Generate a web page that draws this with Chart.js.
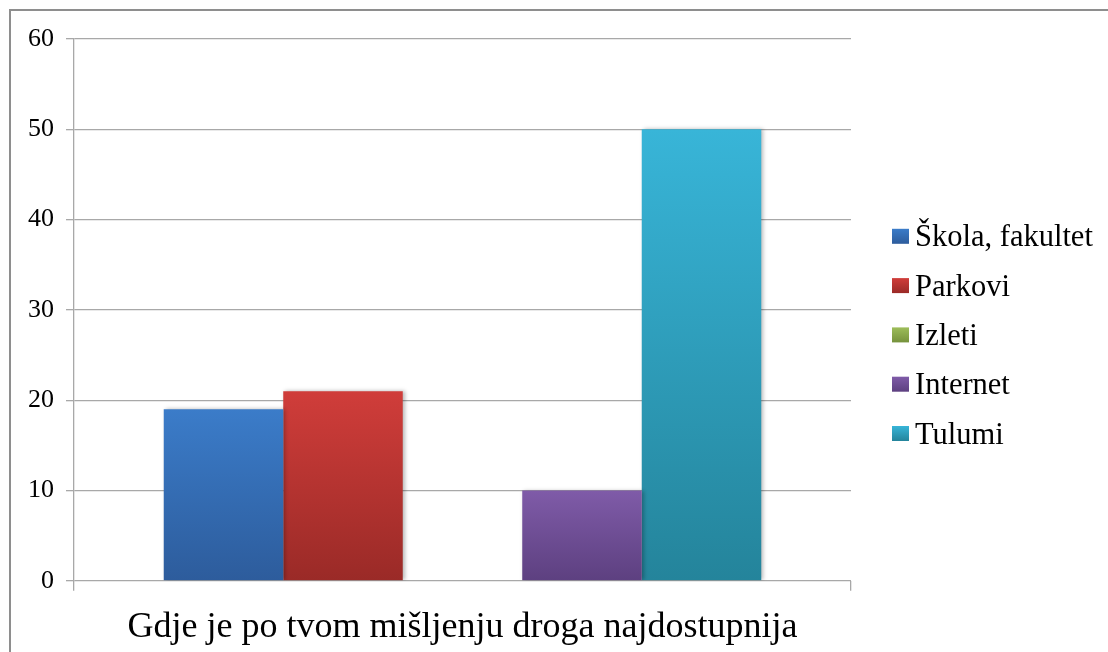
<!DOCTYPE html>
<html>
<head>
<meta charset="utf-8">
<script src="https://cdn.jsdelivr.net/npm/chart.js@4"></script>
<style>
  html, body { margin: 0; padding: 0; background: #fff; overflow: hidden; }
  #wrap { position: relative; width: 1108px; height: 652px; }
  #frame { position: absolute; left: 9px; top: 9px; width: 1200px; height: 800px; border: 2px solid #8e8e8e; box-sizing: border-box; }
  canvas { position: absolute; left: 0; top: 0; }
</style>
</head>
<body>
<div id="wrap">
  <div id="frame"></div>
  <canvas id="c" width="1108" height="652"></canvas>
</div>
<script>
const categories = ['Gdje je po tvom mišljenju droga najdostupnija'];
const seriesNames = ['Škola, fakultet', 'Parkovi', 'Izleti', 'Internet', 'Tulumi'];
const skolaValues = [19];
const parkoviValues = [21];
const izletiValues = [0];
const internetValues = [10];
const tulumiValues = [50];
const yTicks = [0, 10, 20, 30, 40, 50, 60];

const seriesValues = [skolaValues, parkoviValues, izletiValues, internetValues, tulumiValues];
const topColors = ['#3b7cc9', '#d03d3a', '#9dbd5a', '#7f5ba8', '#38b5d8'];
const bottomColors = ['#2d5c9c', '#9a2a27', '#76923c', '#5d4080', '#24849b'];

function barGradient(i) {
  return function (ctx) {
    const chart = ctx.chart;
    const y = chart.scales && chart.scales.y;
    if (!chart.chartArea || !y || ctx.type !== 'data') return topColors[i];
    const v = ctx.raw || 0;
    const yTop = y.getPixelForValue(v);
    const yBot = y.getPixelForValue(0);
    if (Math.abs(yBot - yTop) < 1) return topColors[i];
    const g = chart.ctx.createLinearGradient(0, yTop, 0, yBot);
    g.addColorStop(0, topColors[i]);
    g.addColorStop(1, bottomColors[i]);
    return g;
  };
}

const datasets = seriesNames.map((name, i) => ({
  label: name,
  data: seriesValues[i],
  backgroundColor: barGradient(i),
  borderWidth: 0,
  categoryPercentage: 0.769,
  barPercentage: 1.0
}));

const shadowPlugin = {
  id: 'barShadow',
  beforeDatasetsDraw(chart) {
    const c = chart.ctx;
    c.save();
    c.shadowColor = 'rgba(0,0,0,0.28)';
    c.shadowBlur = 4;
    c.shadowOffsetX = 2;
    c.shadowOffsetY = 0;
  },
  afterDatasetsDraw(chart) {
    chart.ctx.restore();
  }
};

// Legend drawn to the right of the plot, Excel style (small box, tight gap)
const sideLegend = {
  id: 'sideLegend',
  afterDraw(chart) {
    const c = chart.ctx;
    const area = chart.chartArea;
    const n = chart.data.datasets.length;
    const rowH = 49.3;
    const mid = (area.top + area.bottom) / 2 + 25;
    const boxX = area.right + 41;
    const boxW = 17, boxH = 15;
    c.save();
    c.font = '30.5px "Liberation Serif"';
    c.textBaseline = 'alphabetic';
    c.textAlign = 'left';
    chart.data.datasets.forEach((ds, i) => {
      const yc = mid + (i - (n - 1) / 2) * rowH;
      const g = c.createLinearGradient(0, yc - boxH / 2, 0, yc + boxH / 2);
      g.addColorStop(0, topColors[i]);
      g.addColorStop(1, bottomColors[i]);
      c.fillStyle = g;
      c.fillRect(boxX, yc - boxH / 2, boxW, boxH);
      c.fillStyle = '#000';
      c.fillText(ds.label, boxX + boxW + 6, yc + 10);
    });
    c.restore();
  }
};

new Chart(document.getElementById('c'), {
  type: 'bar',
  data: { labels: categories, datasets: datasets },
  plugins: [shadowPlugin, sideLegend],
  options: {
    responsive: false,
    animation: false,
    devicePixelRatio: 1,
    layout: { padding: { left: 16, top: 39, right: 257, bottom: -12 } },
    plugins: {
      tooltip: { enabled: false },
      legend: { display: false }
    },
    scales: {
      x: {
        offset: true,
        grid: {
          display: true,
          offset: true,
          drawOnChartArea: false,
          drawTicks: true,
          tickLength: 10,
          color: '#a8a8a8',
          lineWidth: 1.3
        },
        border: { display: false },
        ticks: {
          font: { family: 'Liberation Serif', size: 36 },
          color: '#000',
          padding: 15,
          maxRotation: 0
        }
      },
      y: {
        min: 0,
        max: 60,
        afterBuildTicks(scale) {
          scale.ticks = yTicks.map(v => ({ value: v }));
        },
        grid: {
          color: '#a8a8a8',
          lineWidth: 1.3,
          drawTicks: true,
          tickLength: 8
        },
        border: { display: true, color: '#a8a8a8', width: 1.3 },
        ticks: {
          font: { family: 'Liberation Serif', size: 26 },
          color: '#000',
          padding: 12
        }
      }
    }
  }
});
</script>
</body>
</html>
